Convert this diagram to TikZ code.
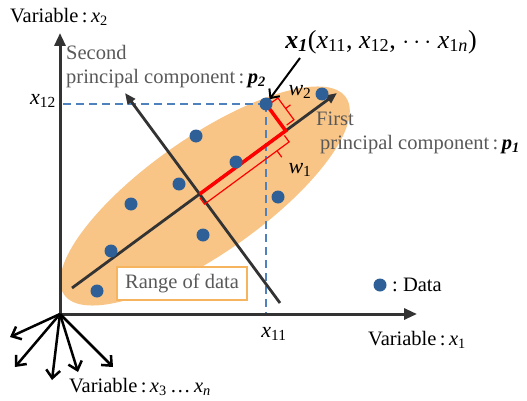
\documentclass[tikz,border=0pt]{standalone}
\usepackage{fontspec}
\setmainfont{Liberation Serif}
\usetikzlibrary{calc,arrows.meta,positioning}
\definecolor{dotblue}{HTML}{2F5F97}
\definecolor{dashblue}{HTML}{4F81BD}
\definecolor{rangeor}{HTML}{F8C586}
\definecolor{boxor}{HTML}{F7B45E}
\definecolor{axgray}{HTML}{333333}
\definecolor{txtgray}{HTML}{595959}
\newcommand{\vx}[1]{\textit{x}\textsubscript{#1}}
\newcommand{\bvec}[2]{\textbf{\textit{#1}}\textsubscript{\textbf{\textit{#2}}}}
\newcommand{\datadot}[2]{\fill[dotblue] (#1,#2) circle (6.5pt);}

\begin{document}
\begin{tikzpicture}[x=1pt,y=1pt,
  axis/.style={axgray,line width=3pt,-{Triangle[length=13pt,width=11pt]}},
  pcaxis/.style={axgray,line width=2.8pt,-{Triangle[length=11pt,width=9pt]}},
  extra/.style={black,line width=2.5pt,-{Straight Barb[length=8pt,width=14pt]}},
  pointer/.style={black,line width=2pt,-{Straight Barb[length=7pt,width=13pt]},shorten >=6pt},
  guide/.style={dashblue,line width=2pt,dash pattern=on 8pt off 5pt},
  proj/.style={red,line width=3.5pt},
  brace/.style={red,line width=1.2pt},
  lbl/.style={font=\fontsize{20.5}{24}\selectfont,inner sep=0pt},
  tick/.style={font=\fontsize{22}{26}\selectfont,inner sep=0pt},
  pclbl/.style={txtgray,font=\fontsize{20.5}{24}\selectfont,align=left,inner sep=0pt},
  rangebox/.style={draw=boxor,line width=1.5pt,fill=white,minimum width=130pt,minimum height=33pt,lbl,text=txtgray}]
\useasboundingbox (0,0) rectangle (527,400);

% range of the data
\fill[rangeor,rotate around={35:(205,204)}] (205,204) ellipse [x radius=172pt,y radius=58pt];

\coordinate (O) at (60,86);
\coordinate (x2end) at (60,367);
\coordinate (x1end) at (417,86);
\coordinate (p1from) at (72,112);
\coordinate (p1to) at (337,307);
\coordinate (p2from) at (280,97);
\coordinate (p2to) at (125,307);
\coordinate (X1) at (266,296);
\coordinate (C) at (intersection of p1from--p1to and p2from--p2to);
\coordinate (F) at ($(C)!(X1)!(p1to)$);

% guides to the axes
\draw[guide] (X1) -- (X1 -| O);
\draw[guide] (X1) -- (X1 |- O);

% principal components
\draw[pcaxis] (p1from) -- (p1to);
\draw[pcaxis] (p2from) -- (p2to);
\draw[proj] (C) -- (F) -- (X1);
\begin{scope}[shift={(C)},rotate=36.35]
\draw[brace] (-2,-3) -- (-2,-11) -- (103,-11) -- (103,-3) (88,-11) -- (88,-19);
\draw[brace] (111,31) -- (120,31) -- (120,4) -- (111,4) (120,18) -- (126,18);
\end{scope}

% data
\datadot{266}{296}
\datadot{322}{306}
\datadot{196}{264}
\datadot{236}{238}
\datadot{179}{216}
\datadot{131}{196}
\datadot{278}{203}
\datadot{203}{165}
\datadot{111}{149}
\datadot{97}{109}

% axes
\draw[axis] (O) -- (x2end);
\draw[axis] (O) -- (x1end);
\foreach \tx/\ty in {10/63,15/33,52/20,78/28,113/33}
  \draw[extra] (O) -- (\tx,\ty);

% labels
\node[lbl] (lx2) at (59,383) {Variable\,:\,\vx{2}};
\node[tick,anchor=east] (lx12) at (56,299) {\vx{12}};
\node[tick] (lx11) at (274,66) {\vx{11}};
\node[lbl] (lx1) at (417,60) {Variable\,:\,\vx{1}};
\node[lbl] (lxn) at (140,13) {Variable\,:\,\vx{3}\,\dots\,\vx{\textit{n}}};
\node[rangebox] (range) at (182,116.5) {Range of data};
\datadot{380}{115}
\node[lbl,anchor=west] (ldata) at (392,115) {:\ Data};
\node[pclbl,anchor=north west] (lp2) at (66,355) {Second\\principal component\,:\,{\color{black}\bvec{p}{2}}};
\node[pclbl,anchor=north west] (lp1) at (316,288) {First\\\hspace{4pt}principal component\,:\,{\color{black}\bvec{p}{1}}};
\node[tick] (lw2) at (300,308) {\textit{w}\textsubscript{2}};
\node[tick] (lw1) at (300,230) {\textit{w}\textsubscript{1}};
\node[font=\fontsize{26}{30}\selectfont,inner sep=0pt] (lX1) at (381,358) {\bvec{x}{1}(\vx{11}, \vx{12}, $\cdots$ \vx{1\textit{n}})};
\coordinate (tail) at (300,342);
\draw[pointer] (tail) -- (X1);
\end{tikzpicture}
\end{document}
